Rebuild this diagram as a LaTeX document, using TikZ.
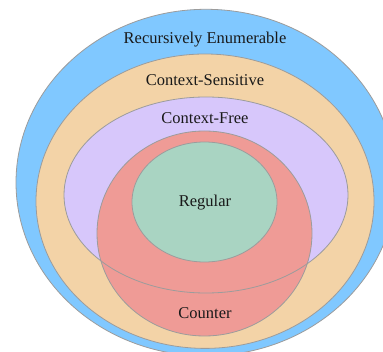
\documentclass[tikz,border=0pt]{standalone}
\usepackage{fontspec}
\setmainfont{Liberation Serif}
\definecolor{reblue}{HTML}{80C8FF}
\definecolor{csorange}{HTML}{F3D3A7}
\definecolor{cfpurple}{HTML}{D7C7FB}
\definecolor{cntred}{HTML}{EF9B96}
\definecolor{reggreen}{HTML}{A9D4C2}
\definecolor{edgegray}{HTML}{9C9C9C}
\begin{document}
\begin{tikzpicture}[x=1pt,y=-1pt,
  ring/.style={draw=edgegray,line width=0.8pt},
  lbl/.style={font=\fontsize{16.5}{18}\selectfont,text=black!90,inner sep=0pt}]
\useasboundingbox (0,0) rectangle (383,352);
\clip (0,0) rectangle (383,352);
\fill[white] (0,0) rectangle (383,352);
\path[ring,fill=reblue] (206,182.6) ellipse [x radius=190pt,y radius=173.3pt];
\path[ring,fill=csorange] (205,201.2) ellipse [x radius=169pt,y radius=147.2pt];
\path[fill=cfpurple] (206,195) ellipse [x radius=142pt,y radius=98pt];
\path[ring,fill=cntred] (204.5,233.5) ellipse [x radius=107.5pt,y radius=102.5pt];
\path[ring] (206,195) ellipse [x radius=142pt,y radius=98pt];
\path[ring,fill=reggreen] (204.5,202) ellipse [x radius=72.5pt,y radius=60pt];
\node[lbl] (re) at (205,39.5) {Recursively Enumerable};
\node[lbl] (cs) at (205,80.5) {Context-Sensitive};
\node[lbl] (cf) at (205,118.5) {Context-Free};
\node[lbl] (reg) at (205,202.5) {Regular};
\node[lbl] (cnt) at (205,313.5) {Counter};
\end{tikzpicture}
\end{document}
